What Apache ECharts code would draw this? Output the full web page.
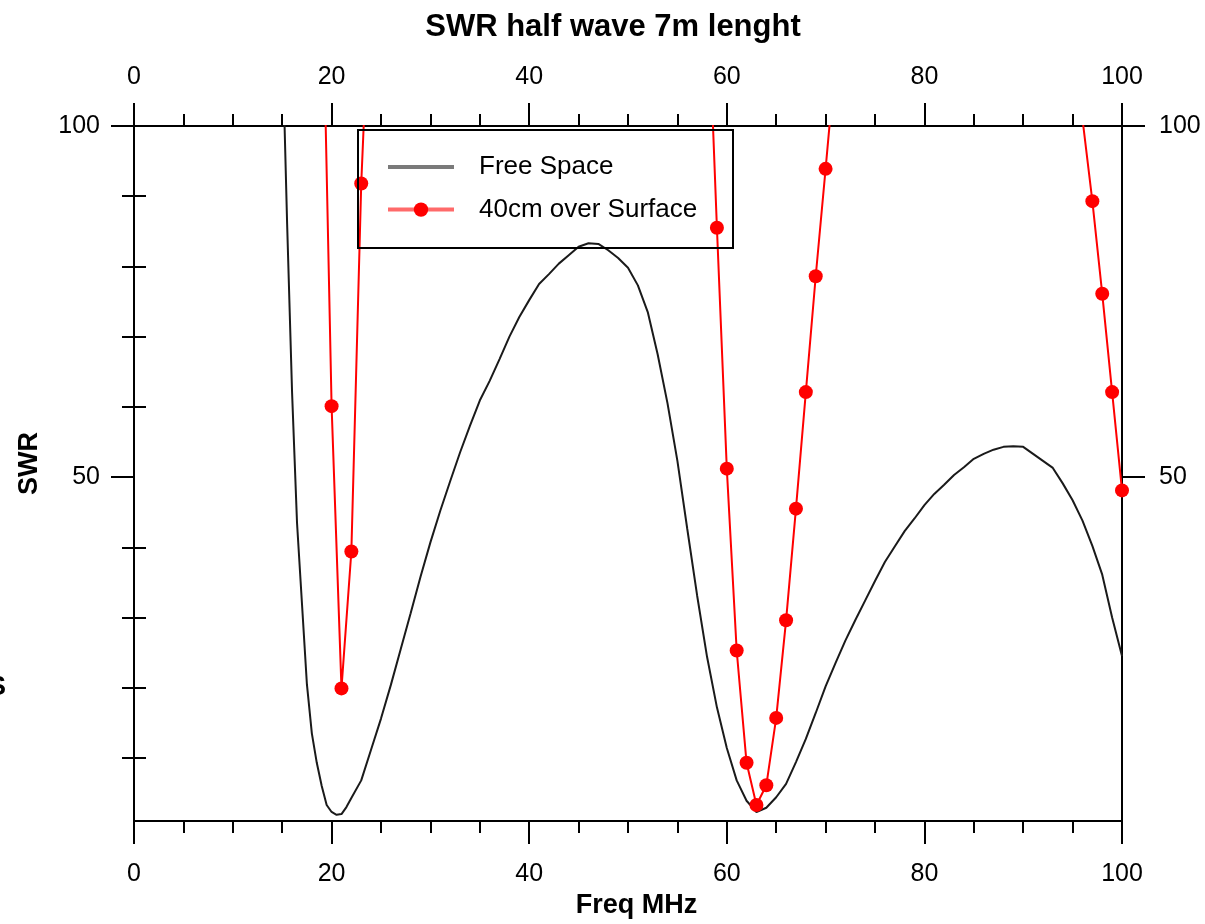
<!DOCTYPE html>
<html>
<head>
<meta charset="utf-8">
<title>SWR half wave 7m lenght</title>
<script src="https://cdn.jsdelivr.net/npm/echarts@6/dist/echarts.min.js"></script>
<style>
  html, body { margin: 0; padding: 0; background: #ffffff; }
  #chart { width: 1205px; height: 924px; }
</style>
</head>
<body>
<div id="chart"></div>
<script>
// Free-space model of the half-wave dipole
const freeFreq = [15, 15.5, 16, 16.5, 17, 17.5, 18, 18.5, 19, 19.5, 20, 20.5, 21, 21.5, 22,
  23, 24, 25, 26, 27, 28, 29, 30, 31, 32, 33, 34, 35, 36, 37, 38, 39, 40,
  41, 42, 43, 44, 45, 46, 47, 48, 49, 50, 51, 52, 53, 54, 55, 56, 57, 58, 59, 60,
  61, 62, 63, 64, 65, 66, 67, 68, 69, 70, 71, 72, 73, 74, 75, 76, 77, 78, 79, 80,
  81, 82, 83, 84, 85, 86, 87, 88, 89, 90, 91, 92, 93, 94, 95, 96, 97, 98, 99, 100];
const freeSWR = [113, 86, 62, 43.5, 32, 20.5, 13.5, 9.3, 6.0, 3.3, 2.3, 1.9, 2.0, 3.0, 4.3,
  6.8, 11.2, 15.6, 20.4, 25.5, 30.6, 35.8, 40.7, 45.2, 49.4, 53.5, 57.3, 60.9, 63.7, 66.8, 70.0, 72.8, 75.2,
  77.5, 78.9, 80.4, 81.6, 82.8, 83.3, 83.2, 82.3, 81.2, 79.8, 77.3, 73.5, 67.5, 60.5, 52.3, 42.6, 33.1, 24.4, 17.2, 11.4,
  6.8, 3.9, 2.3, 2.9, 4.4, 6.3, 9.4, 12.7, 16.4, 20.2, 23.5, 26.7, 29.6, 32.4, 35.2, 37.9, 40.1, 42.3, 44.1, 46.0,
  47.6, 48.9, 50.3, 51.4, 52.6, 53.3, 53.9, 54.3, 54.4, 54.3, 53.3, 52.3, 51.3, 49.1, 46.7, 43.8, 40.2, 36.1, 30.0, 24.5];

// Same antenna 40 cm above the surface, sampled every 1 MHz
const surfaceFreq = [19, 20, 21, 22, 23, 24,
  58, 59, 60, 61, 62, 63, 64, 65, 66, 67, 68, 69, 70, 71,
  96, 97, 98, 99, 100];
const surfaceSWR = [127, 60.1, 19.9, 39.4, 91.8, 125,
  122, 85.5, 51.2, 25.3, 9.3, 3.3, 6.1, 15.7, 29.6, 45.5, 62.1, 78.6, 93.9, 109.5,
  101, 89.3, 76.1, 62.1, 48.1];

const seriesNames = ['Free Space', '40cm over Surface'];

// Axis scales and tick marks
const X_MIN = 0, X_MAX = 100, X_STEP = 20;
const Y_MIN = 1, Y_MAX = 100;
const yMajorTicks = [50, 100];
const yMinorTicks = [10, 20, 30, 40, 60, 70, 80, 90];

const FONT = 'Liberation Sans';
const INK = '#000000';

const pairs = (xs, ys) => xs.map((x, i) => [x, ys[i]]);

const axisLineStyle = { color: INK, width: 2 };
const tickLabel = { color: INK, fontFamily: FONT, fontSize: 25 };

function xAxisDef(position) {
  return {
    type: 'value', position: position, min: X_MIN, max: X_MAX, interval: X_STEP,
    axisLine: { show: true, onZero: false, lineStyle: axisLineStyle },
    axisTick: { show: true, inside: false, length: 23, lineStyle: axisLineStyle },
    minorTick: { show: true, splitNumber: 4, length: 12, lineStyle: axisLineStyle },
    splitLine: { show: false },
    minorSplitLine: { show: false },
    axisLabel: Object.assign({ margin: position === 'top' ? 36 : 41 }, tickLabel)
  };
}

function yAxisMajor(position) {
  return {
    type: 'value', position: position, min: Y_MIN, max: Y_MAX,
    axisLine: { show: true, onZero: false, lineStyle: axisLineStyle },
    axisTick: { show: true, inside: false, length: 23, customValues: yMajorTicks, lineStyle: axisLineStyle },
    splitLine: { show: false },
    axisLabel: Object.assign({ customValues: yMajorTicks, margin: position === 'left' ? 34 : 37 }, tickLabel)
  };
}

function yAxisMinor(position) {
  return {
    type: 'value', position: position, min: Y_MIN, max: Y_MAX,
    axisLine: { show: false },
    axisTick: { show: true, inside: false, length: 12, customValues: yMinorTicks, lineStyle: axisLineStyle },
    splitLine: { show: false },
    axisLabel: { show: false }
  };
}

const xBottom = xAxisDef('bottom');
xBottom.name = 'Freq MHz';
xBottom.nameLocation = 'middle';
xBottom.nameGap = 69;
xBottom.nameTextStyle = { color: INK, fontFamily: FONT, fontSize: 27, fontWeight: 'bold', padding: [0, 0, 0, 17] };

const yLeft = yAxisMajor('left');
yLeft.name = 'SWR';
yLeft.nameLocation = 'middle';
yLeft.nameGap = 91;
yLeft.nameTextStyle = { color: INK, fontFamily: FONT, fontSize: 27, fontWeight: 'bold', padding: [0, 0, 0, 20] };

const chart = echarts.init(document.getElementById('chart'), null, { renderer: 'canvas' });

chart.setOption({
  animation: false,
  backgroundColor: '#ffffff',
  title: {
    text: 'SWR half wave 7m lenght',
    left: 608, top: 7, textAlign: 'center',
    textStyle: { color: INK, fontFamily: FONT, fontSize: 31, fontWeight: 'bold' }
  },
  grid: { left: 134, top: 126, width: 988, height: 702, containLabel: false },
  xAxis: [xBottom, xAxisDef('top')],
  yAxis: [yLeft, yAxisMinor('left'), yAxisMajor('right'), yAxisMinor('right')],
  legend: {
    orient: 'vertical', left: 386, top: 152, padding: 0,
    itemWidth: 66, itemHeight: 18, itemGap: 12.6,
    textStyle: { color: INK, fontFamily: FONT, fontSize: 26, lineHeight: 30, padding: [0, 0, 0, 20] },
    data: [
      { name: seriesNames[0], lineStyle: { color: '#7a7a7a', width: 4 }, itemStyle: { opacity: 0 } },
      { name: seriesNames[1], lineStyle: { color: '#ff6a6a', width: 4 }, itemStyle: { color: '#ff0000' } }
    ]
  },
  graphic: [
    {
      // frame around the legend
      type: 'rect', z: 100, silent: true,
      shape: { x: 358, y: 130, width: 375, height: 118 },
      style: { fill: 'none', stroke: INK, lineWidth: 2 }
    },
    {
      type: 'text', left: -12, top: 674, silent: true,
      style: { text: 'S', fill: INK, font: 'bold 27px "Liberation Sans"' }
    }
  ],
  series: [
    {
      name: seriesNames[0], type: 'line', xAxisIndex: 0, yAxisIndex: 0,
      data: pairs(freeFreq, freeSWR),
      showSymbol: false, symbol: 'none', clip: true,
      lineStyle: { color: '#1a1a1a', width: 2 },
      itemStyle: { color: '#1a1a1a' },
      z: 2
    },
    {
      name: seriesNames[1], type: 'line', xAxisIndex: 0, yAxisIndex: 0,
      data: pairs(surfaceFreq, surfaceSWR),
      symbol: 'circle', symbolSize: 14, showSymbol: true, clip: true,
      lineStyle: { color: '#ff0000', width: 2 },
      itemStyle: { color: '#ff0000' },
      z: 3
    }
  ]
});
</script>
</body>
</html>
